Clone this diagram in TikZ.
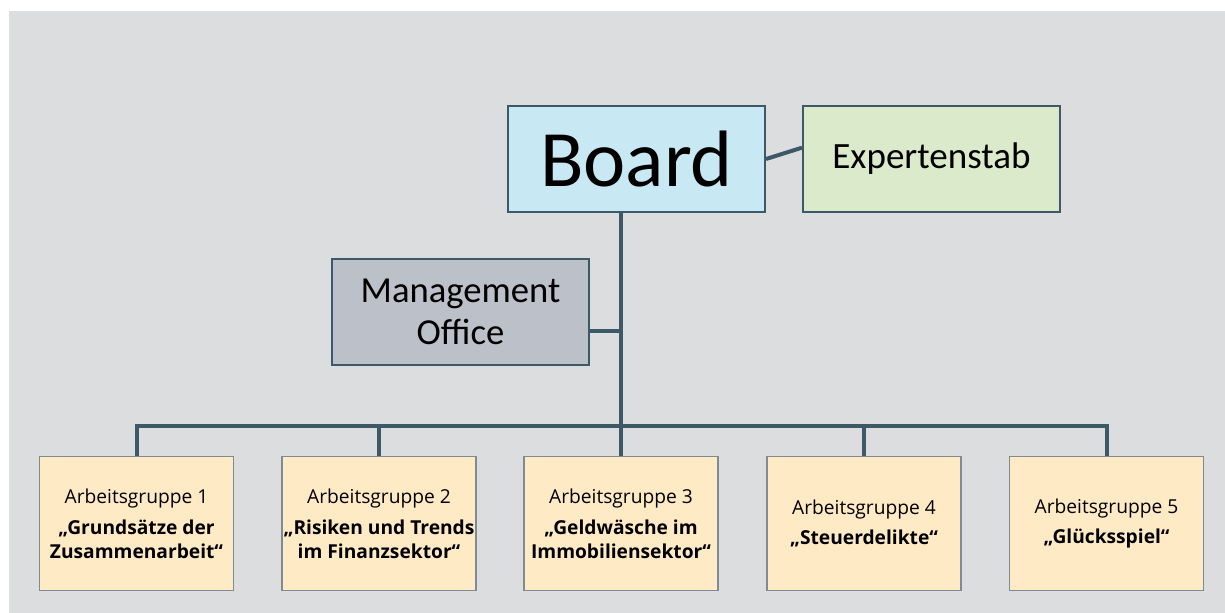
\documentclass[tikz,border=0pt]{standalone}
\usepackage{fontspec}
\setmainfont{Carlito}
\newfontfamily\agfont{Open Sans}
\definecolor{bggray}{HTML}{DCDDDF}
\definecolor{slate}{HTML}{3D5866}
\definecolor{boardblue}{HTML}{C8E9F3}
\definecolor{expertgreen}{HTML}{DAEACB}
\definecolor{mogray}{HTML}{BCC0C8}
\definecolor{agpeach}{HTML}{FFEAC6}
\definecolor{agframe}{HTML}{7D8C94}

\begin{document}
\begin{tikzpicture}[x=0.75pt,y=-0.75pt,
  orgline/.style={draw=slate,line width=3pt},
  topbox/.style={draw=slate,line width=1.5pt,inner sep=0pt,align=center,
    minimum width=192.75pt,minimum height=79.5pt},
  agbox/.style={draw=agframe,line width=1pt,fill=agpeach,inner sep=0pt,align=center,
    minimum width=145.5pt,minimum height=100.5pt,
    font=\agfont\fontsize{14.4}{18}\selectfont}]
\useasboundingbox (0,0) rectangle (1225,613);
\fill[bggray] (9,11) rectangle (1225,613);

% top level
\node[topbox,fill=boardblue,font=\fontsize{60}{60}\selectfont] (board) at (636.5,159) {Board};
\node[topbox,fill=expertgreen,font=\fontsize{27.8}{32}\selectfont] (expert) at (931.5,159) {Expertenstab};
\node[topbox,fill=mogray,font=\fontsize{27.5}{32}\selectfont] (mo) at (460.5,312) {Management\\Office};

% working groups
\node[agbox] (ag1) at (136.5,523.5) {Arbeitsgruppe 1\\[5pt]\textbf{„Grundsätze der}\\\textbf{Zusammenarbeit“}};
\node[agbox] (ag2) at (379,523.5) {Arbeitsgruppe 2\\[5pt]\textbf{„Risiken und Trends}\\\textbf{im Finanzsektor“}};
\node[agbox] (ag3) at (621,523.5) {Arbeitsgruppe 3\\[5pt]\textbf{„Geldwäsche im}\\\textbf{Immobiliensektor“}};
\node[agbox] (ag4) at (864,523.5) {Arbeitsgruppe 4\\[5pt]\textbf{„Steuerdelikte“}};
\node[agbox] (ag5) at (1106.5,523.5) {Arbeitsgruppe 5\\[5pt]\textbf{„Glücksspiel“}};

% connectors
\coordinate (bus) at (621,426);
\coordinate (mojoin) at (621,331);
\draw[orgline] (board.east) -- (expert.175);
\draw[orgline] (ag3 |- board.south) -- (ag3.north);
\draw[orgline] (mo.east |- mojoin) -- (mojoin);
\draw[orgline] (ag1.north) |- (bus) -| (ag5.north);
\draw[orgline] (ag2.north) -- (ag2.north |- bus);
\draw[orgline] (ag4.north) -- (ag4.north |- bus);
\end{tikzpicture}
\end{document}
